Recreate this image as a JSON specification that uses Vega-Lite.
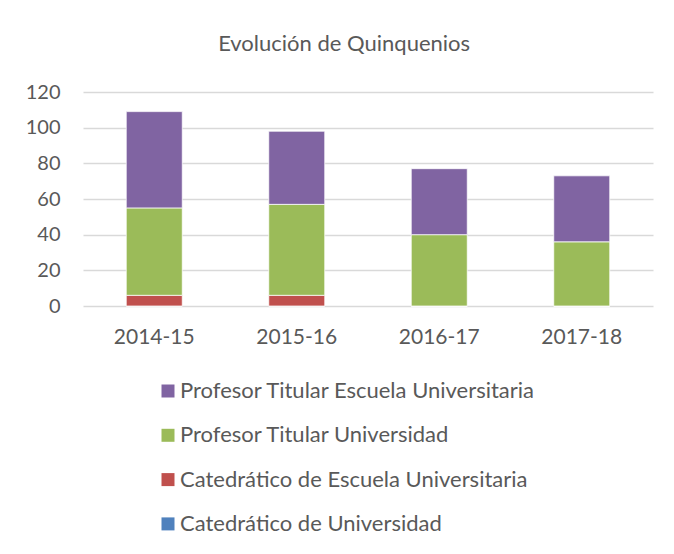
{
  "$schema": "https://vega.github.io/schema/vega-lite/v6.json",
  "width": 570,
  "height": 214,
  "autosize": {"type": "none"},
  "padding": {"left": 83, "top": 92, "right": 21, "bottom": 248},
  "background": "white",
  "title": {
    "text": "Evolución de Quinquenios",
    "font": "Lato",
    "fontSize": 22,
    "fontWeight": "normal",
    "color": "#595959",
    "frame": "bounds",
    "anchor": "middle",
    "dx": 5,
    "offset": 26
  },
  "data": {
    "values": [
      {"curso": "2014-15", "serie": "Catedrático de Universidad", "valor": 0},
      {"curso": "2014-15", "serie": "Catedrático de Escuela Universitaria", "valor": 6},
      {"curso": "2014-15", "serie": "Profesor Titular Universidad", "valor": 49},
      {"curso": "2014-15", "serie": "Profesor Titular Escuela Universitaria", "valor": 54},
      {"curso": "2015-16", "serie": "Catedrático de Universidad", "valor": 0},
      {"curso": "2015-16", "serie": "Catedrático de Escuela Universitaria", "valor": 6},
      {"curso": "2015-16", "serie": "Profesor Titular Universidad", "valor": 51},
      {"curso": "2015-16", "serie": "Profesor Titular Escuela Universitaria", "valor": 41},
      {"curso": "2016-17", "serie": "Catedrático de Universidad", "valor": 0},
      {"curso": "2016-17", "serie": "Catedrático de Escuela Universitaria", "valor": 0},
      {"curso": "2016-17", "serie": "Profesor Titular Universidad", "valor": 40},
      {"curso": "2016-17", "serie": "Profesor Titular Escuela Universitaria", "valor": 37},
      {"curso": "2017-18", "serie": "Catedrático de Universidad", "valor": 0},
      {"curso": "2017-18", "serie": "Catedrático de Escuela Universitaria", "valor": 0},
      {"curso": "2017-18", "serie": "Profesor Titular Universidad", "valor": 36},
      {"curso": "2017-18", "serie": "Profesor Titular Escuela Universitaria", "valor": 37}
    ]
  },
  "mark": {"type": "bar", "stroke": "white", "strokeWidth": 0.75},
  "encoding": {
    "x": {
      "field": "curso",
      "type": "nominal",
      "scale": {"paddingInner": 0.607, "paddingOuter": 0.3035},
      "axis": {
        "title": null,
        "labelAngle": 0,
        "labelFont": "Lato",
        "labelFontSize": 21,
        "labelColor": "#595959",
        "labelPadding": 20,
        "ticks": false,
        "domain": false
      }
    },
    "y": {
      "field": "valor",
      "type": "quantitative",
      "stack": "zero",
      "scale": {"domain": [0, 120], "nice": false},
      "axis": {
        "title": null,
        "values": [0, 20, 40, 60, 80, 100, 120],
        "labelFont": "Lato",
        "labelFontSize": 20,
        "labelColor": "#595959",
        "labelPadding": 23,
        "ticks": false,
        "domain": false,
        "gridColor": "#D9D9D9",
        "gridWidth": 1.3
      }
    },
    "order": {"field": "color_serie_sort_index", "type": "quantitative", "sort": "descending"},
    "color": {
      "field": "serie",
      "type": "nominal",
      "sort": [
        "Profesor Titular Escuela Universitaria",
        "Profesor Titular Universidad",
        "Catedrático de Escuela Universitaria",
        "Catedrático de Universidad"
      ],
      "scale": {
        "range": ["#8064A2", "#9BBB59", "#C0504D", "#4F81BD"]
      },
      "legend": {
        "title": null,
        "orient": "none",
        "legendX": 74,
        "legendY": 288,
        "direction": "vertical",
        "symbolType": "square",
        "symbolSize": 169,
        "symbolStrokeWidth": 0,
        "symbolOpacity": 1,
        "labelFont": "Lato",
        "labelFontSize": 22,
        "labelColor": "#595959",
        "labelOffset": 1,
        "labelLimit": 500,
        "rowPadding": 22.3
      }
    }
  },
  "config": {
    "view": {"stroke": null}
  }
}
